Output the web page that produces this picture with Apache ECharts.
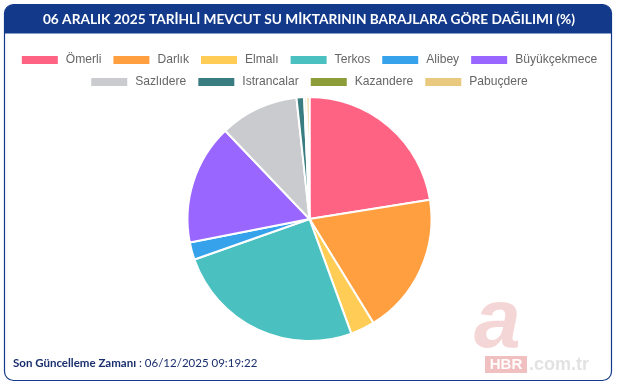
<!DOCTYPE html>
<html><head><meta charset="utf-8">
<script src="https://cdn.jsdelivr.net/npm/echarts@6/dist/echarts.min.js"></script>
<style>html,body{margin:0;padding:0;background:#fff}#c{width:617px;height:385px}</style>
</head><body><div id="c"></div>
<script>
const titleText = '06 ARALIK 2025 TARİHLİ MEVCUT SU MİKTARININ BARAJLARA GÖRE DAĞILIMI (%)';
const categories = ['Ömerli','Darlık','Elmalı','Terkos','Alibey','Büyükçekmece','Sazlıdere','Istrancalar','Kazandere','Pabuçdere'];
const values = [22.4, 18.7, 3.2, 25.1, 2.3, 15.9, 10.4, 1.0, 0.3, 0.4];
const colors = ['#ff6384','#ff9f40','#ffcd56','#4bc0c0','#36a2eb','#9966ff','#c9cbcf','#3a7d80','#8c9d3a','#e9c97e'];
const updateLabel = 'Son Güncelleme Zamanı';
const updateValue = ' : 06/12/2025 09:19:22';

const navy = '#12398a';
const legendText = {color:'#666', fontSize:12.1, fontFamily:'"Liberation Sans", Arial, sans-serif', padding:[0,0,0,2]};
const chart = echarts.init(document.getElementById('c'));
chart.setOption({
  animation: false,
  color: colors,
  graphic: [
    {type:'rect', shape:{x:4.5,y:4.5,width:607,height:376,r:9}, style:{fill:'#fff',stroke:navy,lineWidth:1.2}, z:-10},
    {type:'rect', shape:{x:4.5,y:4.5,width:607,height:29,r:[9,9,0,0]}, style:{fill:navy}, z:-9},
    {type:'text', x:309, y:19.5, style:{text:titleText, fill:'#fff', font:'bold 13.7px Lato, "Open Sans", sans-serif', align:'center', verticalAlign:'middle'}},
    {type:'text', x:13, y:363, style:{text:'{b|'+updateLabel+'}{n|'+updateValue+'}', verticalAlign:'middle',
      rich:{b:{fill:'#1a2f6e', font:'bold 11.5px Lato, "Open Sans", sans-serif'}, n:{fill:'#1a2f6e', font:'11.5px Lato, "Open Sans", sans-serif'}}}},
    {type:'text', x:474, y:366, style:{text:'a', fill:'rgba(225,130,130,0.33)', font:'italic bold 84px "Liberation Sans", sans-serif', align:'left', verticalAlign:'bottom'}},
    {type:'rect', shape:{x:485,y:356,width:42,height:17}, style:{fill:'rgba(215,90,90,0.38)'}},
    {type:'text', x:506, y:365, style:{text:'HBR', fill:'rgba(255,255,255,0.95)', font:'bold 15px "Liberation Sans", sans-serif', align:'center', verticalAlign:'middle'}},
    {type:'text', x:529, y:365, style:{text:'.com.tr', fill:'rgba(190,190,190,0.45)', font:'bold 18px "Liberation Sans", sans-serif', align:'left', verticalAlign:'middle'}}
  ],
  legend: [
    {data: categories.slice(0,6), top: 49, left:'center', itemWidth:38, itemHeight:10, itemGap:10, icon:'rect',
      textStyle:legendText, selectedMode:false},
    {data: categories.slice(6), top: 71, left:'center', itemWidth:38, itemHeight:10, itemGap:10, icon:'rect',
      textStyle:legendText, selectedMode:false}
  ],
  series: [{
    type:'pie', center:[309.5,219], radius:[0,122], startAngle:90, clockwise:true,
    label:{show:false}, labelLine:{show:false}, emphasis:{disabled:true},
    itemStyle:{borderColor:'#fff', borderWidth:2},
    data: categories.map((n,i)=>({name:n, value:values[i]}))
  }]
});
</script></body></html>
